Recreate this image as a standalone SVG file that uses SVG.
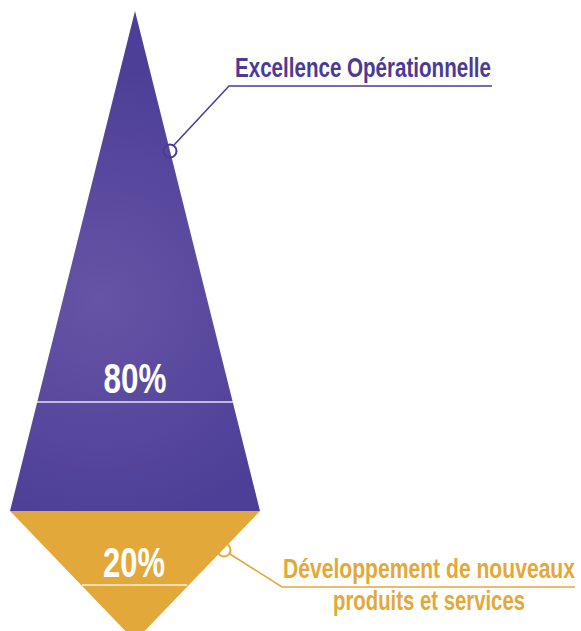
<svg xmlns="http://www.w3.org/2000/svg" width="581" height="631" viewBox="0 0 581 631">
  <defs>
    <radialGradient id="pg" cx="100" cy="300" r="230" gradientUnits="userSpaceOnUse">
      <stop offset="0" stop-color="#6654a5"/>
      <stop offset="1" stop-color="#4d3f97"/>
    </radialGradient>
    <style>
      .lbl { font-family: "Liberation Sans", Arial, sans-serif; font-weight: bold; }
      .pct { fill: #ffffff; font-size: 42px; text-anchor: middle; }
      .sep { stroke: #ffffff; stroke-width: 1.5; opacity: 0.85; }
      .purple { fill: #4b3a96; font-size: 22px; }
      .gold { fill: #e3a83a; font-size: 20px; }
    </style>
  </defs>
  <g id="excellence">
    <polygon points="135,11 260,511 10,511" fill="url(#pg)"/>
    <line class="sep" x1="37" y1="402" x2="233" y2="402"/>
    <text class="lbl pct" x="135" y="393" textLength="63" lengthAdjust="spacingAndGlyphs">80%</text>
  </g>
  <g id="developpement">
    <polygon points="10,511 260,511 135,641" fill="#e3a83a"/>
    <line class="sep" x1="82" y1="585" x2="187" y2="585"/>
    <text class="lbl pct" x="134" y="577" textLength="62" lengthAdjust="spacingAndGlyphs">20%</text>
  </g>
  <g id="connectors" fill="none" stroke-width="1.5">
    <polyline points="174,145 229,86 492,86" stroke="#4b3a96"/>
    <circle cx="170" cy="151" r="6.5" stroke="#4b3a96" stroke-width="2"/>
    <polyline points="230,554 282,587 575,587" stroke="#e3a83a"/>
    <circle cx="224" cy="550" r="6.5" stroke="#e3a83a" stroke-width="2"/>
  </g>
  <g id="labels">
    <text class="lbl purple" transform="translate(235,77) scale(1,1.27)" textLength="256" lengthAdjust="spacingAndGlyphs">Excellence Opérationnelle</text>
    <text class="lbl gold" transform="translate(283,578) scale(1,1.4)" textLength="292" lengthAdjust="spacingAndGlyphs">Développement de nouveaux</text>
    <text class="lbl gold" transform="translate(333,610) scale(1,1.4)" textLength="192" lengthAdjust="spacingAndGlyphs">produits et services</text>
  </g>
</svg>
